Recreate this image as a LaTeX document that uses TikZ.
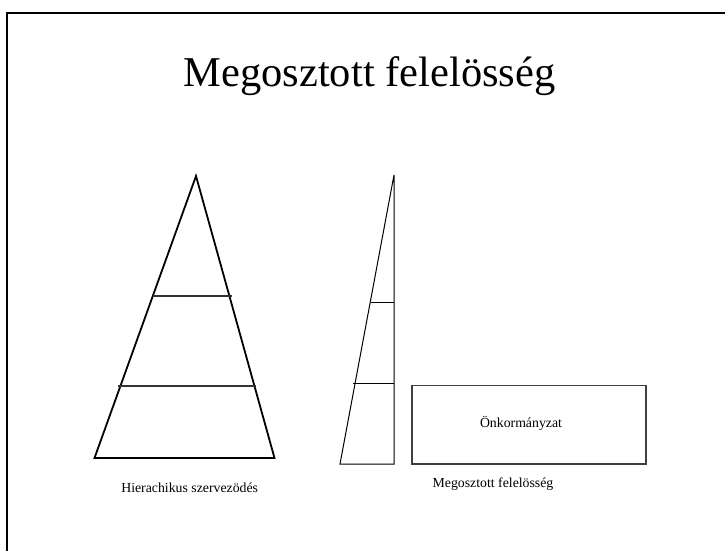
\documentclass[tikz,border=0pt]{standalone}
\usepackage{fontspec}
\setmainfont{Liberation Serif}
\begin{document}
\begin{tikzpicture}[x=1pt,y=-1pt,
  thick line/.style={line width=1.8pt,black,line join=miter},
  thin line/.style={line width=1.1pt,black!80},
  lbl/.style={anchor=base,inner sep=0pt,font=\fontsize{13.8}{16}\selectfont}]
\useasboundingbox (0,0) rectangle (725,550);
% frame (only left and top edges visible)
\draw[line width=2pt] (6.5,552) -- (6.5,13) -- (727,13);
% title
\node[anchor=base,inner sep=0pt,font=\fontsize{42.5}{50}\selectfont] (title) at (369.5,86.7) {Megosztott felelösség};
% big triangle
\draw[thick line] (196,176) -- (274.5,458) -- (94.5,458) -- cycle;
\draw[thin line] (153,296) -- (232,296);
\draw[thin line] (118,386) -- (256,386);
\node[lbl] (hier) at (189.7,492) {Hierachikus szervezödés};
% narrow triangle
\draw[line width=1pt,black] (394,175) -- (394,464) -- (340,464) -- cycle;
\draw[line width=1pt,black] (371,302) -- (394,302);
\draw[line width=1pt,black] (353,383) -- (394,383);
% rectangle
\draw[line width=1.3pt,black!75] (412,385.5) rectangle (646,464);
\node[lbl] (onk) at (521,427.7) {Önkormányzat};
\node[lbl] (meg) at (493,487) {Megosztott felelösség};
\end{tikzpicture}
\end{document}
